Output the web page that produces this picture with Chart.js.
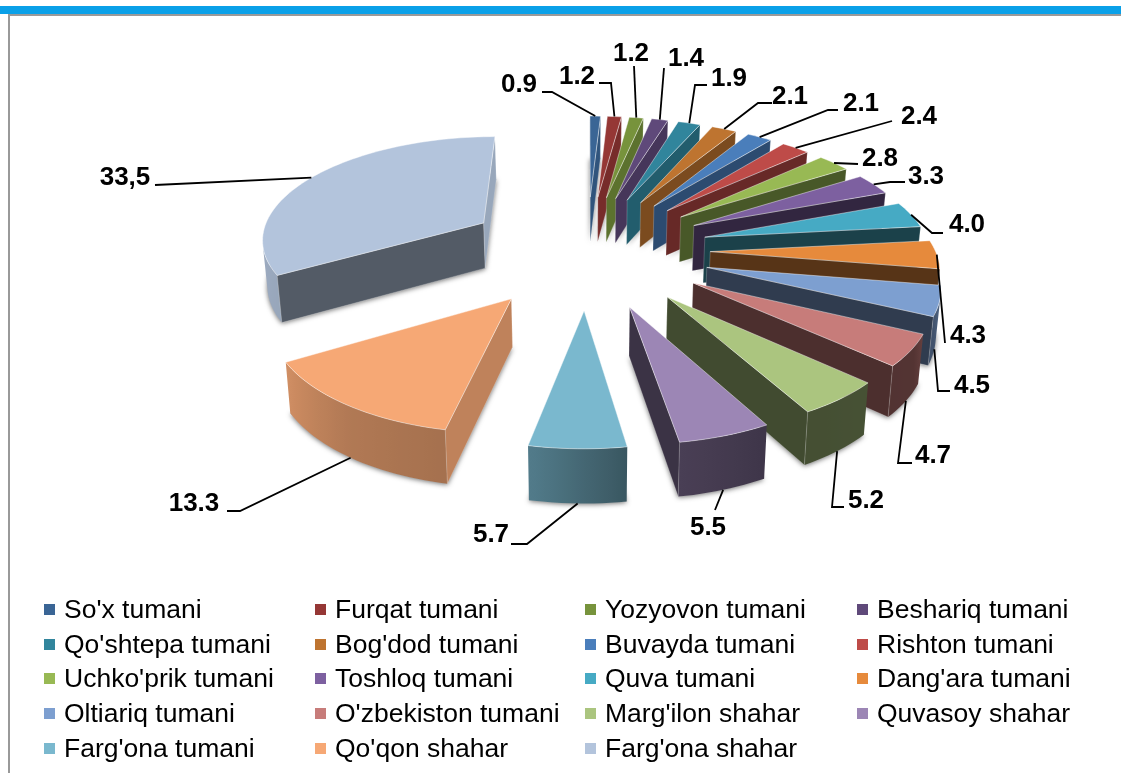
<!DOCTYPE html>
<html>
<head>
<meta charset="utf-8">
<title>Hududlar ulushi</title>
<script src="https://cdn.jsdelivr.net/npm/chart.js@4"></script>
<style>
  html, body { margin: 0; padding: 0; background: #fff; }
  main { width: 1121px; height: 773px; }
</style>
</head>
<body>
<main><canvas id="chart"></canvas></main>
<script>
// Exploded 3D pie: Chart.js lays out the arcs, the plugin below extrudes them in perspective

const districts = ["So'x tumani", "Furqat tumani", "Yozyovon tumani", "Beshariq tumani",
    "Qo'shtepa tumani", "Bog'dod tumani", "Buvayda tumani", "Rishton tumani",
    "Uchko'prik tumani", "Toshloq tumani", "Quva tumani", "Dang'ara tumani",
    "Oltiariq tumani", "O'zbekiston tumani", "Marg'ilon shahar", "Quvasoy shahar",
    "Farg'ona tumani", "Qo'qon shahar", "Farg'ona shahar"];

const shares = [0.9, 1.2, 1.2, 1.4, 1.9, 2.1, 2.1, 2.4, 2.8, 3.3, 4.0, 4.3, 4.5, 4.7, 5.2, 5.5, 5.7, 13.3, 33.5];

const shareLabels = ['0.9', '1.2', '1.2', '1.4', '1.9', '2.1', '2.1', '2.4', '2.8', '3.3', '4.0',
    '4.3', '4.5', '4.7', '5.2', '5.5', '5.7', '13.3', '33,5'];

const sliceColors = ['#3A6595', '#953735', '#77933C', '#5F497A', '#31859C', '#BE7430', '#4A7EBB',
    '#BE4B48', '#98B954', '#7D60A0', '#46AAC4', '#E68A3C', '#7D9FD0', '#C77C7A', '#ABC57F',
    '#9C86B5', '#7AB8CE', '#F6A875', '#B3C4DC'];

// hand placed label centres and leader bends, same order as the slices
const labelSpots = [[519, 84], [577, 76], [631, 53], [686, 58], [729, 78], [790, 96], [861, 103],
    [919, 116], [880, 158], [926, 176], [967, 224], [968, 335], [972, 385], [933, 455], [866, 500],
    [708, 527], [491, 534], [194, 503], [125, 177]];
const leaderBends = [
    [[552, 92], [542, 92]], [[611, 83], [599, 83]], [[634, 66]], [[664, 68]], [[695, 85], [707, 85]],
    [[758, 103], [772, 103]], [[828, 110], [838, 110]], [[892, 121]], [[858, 164]],
    [[890, 182], [905, 182]], [[932, 233], [943, 233]], [[945, 343]], [[938, 391], [950, 391]],
    [[898, 463], [912, 463]], [[832, 507], [844, 507]], [[715, 510]], [[527, 544], [511, 544]],
    [[240, 511], [227, 511]], [[155, 185]]];

const legendCols = [45, 316, 586, 858];
const legendRows = [610, 645, 679, 714, 749];

const TILT = 0.46;
const PERSPECTIVE = 0.00056;
const DEPTH = 46;
const BOTTOM_SHRINK = 0.985;

// brightness of the rim against the direction it faces (degrees clockwise from top)
const rimLight = [[0, 0.9], [90, 0.95], [105, 0.68], [122, 0.42], [151, 0.4], [171, 0.47], [191, 0.67],
    [215, 0.72], [239, 0.85], [270, 0.9], [360, 0.9]];

function shade(hex, f) {
    const n = parseInt(hex.slice(1), 16);
    const r = Math.round(((n >> 16) & 255) * f);
    const g = Math.round(((n >> 8) & 255) * f);
    const b = Math.round((n & 255) * f);
    return 'rgb(' + r + ',' + g + ',' + b + ')';
}

function rimShade(deg) {
    for (let i = 1; i < rimLight.length; i++) {
        if (deg <= rimLight[i][0]) {
            const a = rimLight[i - 1];
            const b = rimLight[i];
            return a[1] + (b[1] - a[1]) * (deg - a[0]) / (b[0] - a[0]);
        }
    }
    return 0.9;
}

// flat radial walls go dark as they turn from the right towards the viewer
function wallShade(normalDeg) {
    if (normalDeg < 90) return 0.85;
    return Math.max(0.38, 0.85 - (normalDeg - 90) * 0.0065);
}

function toDeg(rad) {
    return ((rad + Math.PI / 2) * 180 / Math.PI + 720) % 360;
}

function project(arc, x, y, level) {
    const d = 1 / (1 - PERSPECTIVE * y);
    const shrink = level ? BOTTOM_SHRINK : 1;
    const wall = DEPTH * Math.pow(d, d > 1 ? 0.8 : 0.5);
    return [arc.x + x * d * shrink, arc.y + y * TILT * d + level * wall];
}

function polygon(ctx, pts) {
    ctx.beginPath();
    pts.forEach(function (p, i) {
        if (i === 0) ctx.moveTo(p[0], p[1]);
        else ctx.lineTo(p[0], p[1]);
    });
    ctx.closePath();
}

function signedArea(pts) {
    let sum = 0;
    for (let i = 0; i < pts.length; i++) {
        const p = pts[i];
        const q = pts[(i + 1) % pts.length];
        sum += p[0] * q[1] - q[0] * p[1];
    }
    return sum;
}

function sliceOutline(arc) {
    const mid = (arc.startAngle + arc.endAngle) / 2;
    const off = arc.options.offset / 4;
    const ox = Math.cos(mid) * off;
    const oy = Math.sin(mid) * off;
    const steps = Math.max(2, Math.ceil((arc.endAngle - arc.startAngle) / 0.03));
    const rim = [];
    for (let i = 0; i <= steps; i++) {
        const a = arc.startAngle + (arc.endAngle - arc.startAngle) * i / steps;
        rim.push({ a: a, x: ox + Math.cos(a) * arc.outerRadius, y: oy + Math.sin(a) * arc.outerRadius });
    }
    return { ox: ox, oy: oy, rim: rim };
}

function fillWall(ctx, pts, color) {
    polygon(ctx, pts);
    ctx.fillStyle = color;
    ctx.fill();
    ctx.strokeStyle = 'rgba(255, 255, 255, 0.35)';
    ctx.lineWidth = 0.6;
    ctx.stroke();
}

// visible part of the rim as one shape, with the light changing across it
function drawRim(ctx, s, at, color) {
    const topEdge = [];
    const lowEdge = [];
    const stops = [];
    for (let i = 0; i < s.rim.length - 1; i++) {
        const p = s.rim[i];
        const q = s.rim[i + 1];
        const quad = [at(p, 0), at(q, 0), at(q, 1), at(p, 1)];
        if (signedArea(quad) >= 0) continue;
        if (!topEdge.length) {
            topEdge.push(quad[0]);
            lowEdge.push(quad[3]);
            stops.push([quad[0][0], toDeg(p.a)]);
        }
        topEdge.push(quad[1]);
        lowEdge.push(quad[2]);
        stops.push([quad[1][0], toDeg(q.a)]);
    }
    if (topEdge.length < 2) return;

    const xs = stops.map(function (st) { return st[0]; });
    const minX = Math.min.apply(null, xs);
    const maxX = Math.max.apply(null, xs);
    const grad = ctx.createLinearGradient(minX, 0, Math.max(maxX, minX + 1), 0);
    stops.forEach(function (st) {
        const pos = (st[0] - minX) / Math.max(maxX - minX, 1);
        grad.addColorStop(Math.min(1, Math.max(0, pos)), shade(color, rimShade(st[1])));
    });
    polygon(ctx, topEdge.concat(lowEdge.reverse()));
    ctx.fillStyle = grad;
    ctx.fill();
}

function drawSlice(ctx, arc, color) {
    const s = sliceOutline(arc);
    const at = function (p, level) { return project(arc, p.x, p.y, level); };
    const apex = { x: s.ox, y: s.oy };
    const first = s.rim[0];
    const last = s.rim[s.rim.length - 1];

    // soft shadow from the underside
    ctx.save();
    ctx.shadowColor = 'rgba(0, 0, 0, 0.55)';
    ctx.shadowBlur = 5;
    ctx.shadowOffsetY = 1;
    ctx.fillStyle = '#b8b8b8';
    polygon(ctx, [at(apex, 1)].concat(s.rim.map(function (p) { return at(p, 1); })));
    ctx.fill();
    ctx.restore();

    drawRim(ctx, s, at, color);

    // radial walls
    const startWall = [at(apex, 0), at(first, 0), at(first, 1), at(apex, 1)];
    const endWall = [at(apex, 0), at(last, 0), at(last, 1), at(apex, 1)];
    if (signedArea(startWall) < 0) {
        fillWall(ctx, startWall, shade(color, wallShade((toDeg(first.a) + 270) % 360)));
    }
    if (signedArea(endWall) > 0) {
        fillWall(ctx, endWall, shade(color, wallShade((toDeg(last.a) + 90) % 360)));
    }

    // top face and its pale bevel
    const top = [at(apex, 0)].concat(s.rim.map(function (p) { return at(p, 0); }));
    polygon(ctx, top);
    ctx.fillStyle = color;
    ctx.fill();
    ctx.strokeStyle = 'rgba(255, 255, 255, 0.55)';
    ctx.lineWidth = 0.8;
    ctx.stroke();
}

function drawLeader(ctx, arc, i) {
    const s = sliceOutline(arc);
    const mid = (arc.startAngle + arc.endAngle) / 2;
    const level = Math.sin(mid) > 0.1 ? 1 : 0;
    const start = project(arc, s.ox + Math.cos(mid) * arc.outerRadius, s.oy + Math.sin(mid) * arc.outerRadius, level);

    ctx.beginPath();
    ctx.moveTo(start[0], start[1]);
    leaderBends[i].forEach(function (p) { ctx.lineTo(p[0], p[1]); });
    ctx.strokeStyle = '#000';
    ctx.lineWidth = 1.8;
    ctx.lineJoin = 'miter';
    ctx.stroke();

    ctx.fillStyle = '#000';
    ctx.font = 'bold 26px "Liberation Sans", Arial, sans-serif';
    ctx.textAlign = 'center';
    ctx.textBaseline = 'middle';
    ctx.fillText(shareLabels[i], labelSpots[i][0], labelSpots[i][1] + 1);
}

const pie3d = {
    id: 'pie3d',
    beforeDraw: function (chart) {
        const ctx = chart.ctx;
        ctx.save();
        ctx.fillStyle = '#fff';
        ctx.fillRect(0, 0, chart.width, chart.height);
        // page frame
        ctx.fillStyle = '#0AA0E8';
        ctx.fillRect(0, 6, chart.width, 8);
        ctx.fillStyle = '#999';
        ctx.fillRect(8, 14, chart.width - 8, 2);
        ctx.fillRect(8, 14, 2, chart.height - 14);
        ctx.restore();
    },
    beforeDatasetDraw: function (chart) {
        const ctx = chart.ctx;
        const arcs = chart.getDatasetMeta(0).data;
        const order = arcs.map(function (arc, i) { return i; });
        order.sort(function (a, b) {
            return Math.sin((arcs[a].startAngle + arcs[a].endAngle) / 2) - Math.sin((arcs[b].startAngle + arcs[b].endAngle) / 2);
        });
        ctx.save();
        order.forEach(function (i) { drawSlice(ctx, arcs[i], sliceColors[i]); });
        arcs.forEach(function (arc, i) { drawLeader(ctx, arc, i); });
        ctx.restore();
        return false;
    },
    afterDraw: function (chart) {
        // legend sits on a fixed four column grid, which the built in legend cannot do
        const ctx = chart.ctx;
        ctx.save();
        ctx.font = '26.5px "Liberation Sans", Arial, sans-serif';
        ctx.textAlign = 'left';
        ctx.textBaseline = 'middle';
        chart.data.labels.forEach(function (name, i) {
            const x = legendCols[i % 4];
            const y = legendRows[Math.floor(i / 4)];
            ctx.fillStyle = sliceColors[i];
            ctx.fillRect(x - 1, y - 6, 11, 11);
            ctx.fillStyle = '#000';
            ctx.fillText(name, x + 19, y + 1);
        });
        ctx.restore();
    }
};

new Chart(document.getElementById('chart'), {
    type: 'pie',
    data: {
        labels: districts,
        datasets: [{
            data: shares,
            backgroundColor: sliceColors,
            borderWidth: 0,
            offset: 492
        }]
    },
    options: {
        responsive: true,
        maintainAspectRatio: false,
        animation: false,
        radius: 225,
        layout: { padding: { left: 53, bottom: 273 } },
        plugins: {
            legend: { display: false },
            tooltip: { enabled: false }
        }
    },
    plugins: [pie3d]
});
</script>
</body>
</html>
